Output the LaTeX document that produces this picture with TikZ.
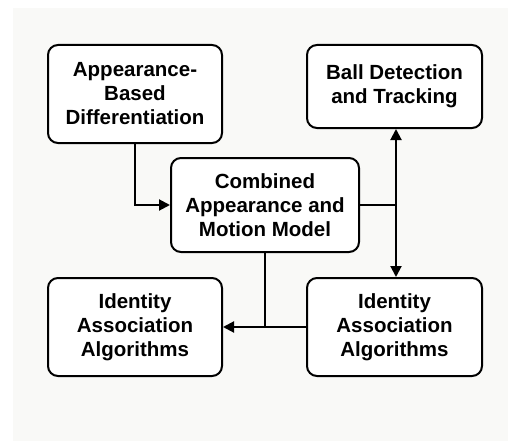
\documentclass[tikz,border=0pt]{standalone}
\usepackage{fontspec}
\setmainfont{Liberation Sans}
\usetikzlibrary{arrows.meta}
\definecolor{bgoff}{RGB}{249,249,247}
\tikzset{
  box/.style={draw=black, line width=2pt, rounded corners=10pt, fill=white, align=center,
    font=\bfseries\fontsize{20.5}{24}\selectfont, inner sep=0pt},
  conn/.style={line width=2pt},
  tipend/.style={-{Triangle[length=11pt,width=11pt]}},
  tipboth/.style={{Triangle[length=11pt,width=11pt]}-{Triangle[length=11pt,width=11pt]}}
}
\begin{document}
\begin{tikzpicture}[x=1pt,y=-1pt]
\useasboundingbox (0,0) rectangle (508,441);
\fill[white] (0,0) rectangle (508,441);
\fill[bgoff] (13,8) rectangle (508,441);
\node[box, minimum width=174pt, minimum height=98pt] (a) at (135,94) {Appearance-\\Based\\Differentiation};
\node[box, minimum width=175pt, minimum height=83pt] (b) at (394.5,86.5) {Ball Detection\\and Tracking};
\node[box, minimum width=188pt, minimum height=94pt] (c) at (265,205) {Combined\\Appearance and\\Motion Model};
\node[box, minimum width=174pt, minimum height=98pt] (d) at (135,327) {Identity\\Association\\Algorithms};
\node[box, minimum width=175pt, minimum height=98pt] (e) at (394.5,327) {Identity\\Association\\Algorithms};
\coordinate (j) at (396,205);
\draw[conn,tipend] (a.south) |- (c.west);
\draw[conn] (c.east) -- (j);
\draw[conn,tipboth] (b.south -| j) -- (e.north -| j);
\draw[conn] (c.south) -- (c.south |- e.west);
\draw[conn,tipend] (e.west) -- (d.east);
\end{tikzpicture}
\end{document}
